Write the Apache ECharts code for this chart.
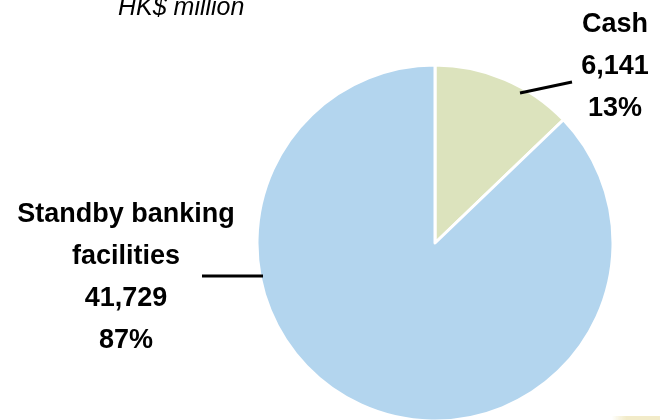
<!DOCTYPE html>
<html>
<head>
<meta charset="utf-8">
<script src="https://cdn.jsdelivr.net/npm/echarts@6/dist/echarts.min.js"></script>
<style>
  html, body { margin: 0; padding: 0; background: #fff; }
  #chart { width: 660px; height: 420px; }
</style>
</head>
<body>
<div id="chart"></div>
<script>
// Liquidity sources, HK$ million
const categories = ['Cash', 'Standby banking\nfacilities'];
const values = [6141, 41729];
const colors = ['#dce3bd', '#b3d5ee'];
const unitLabel = 'HK$ million';

const chart = echarts.init(document.getElementById('chart'), null, { renderer: 'canvas' });

const total = values.reduce((a, b) => a + b, 0);
const fmt = v => v.toString().replace(/\B(?=(\d{3})+(?!\d))/g, ',');

const pieData = categories.map((name, i) => ({
  name: name,
  value: values[i],
  itemStyle: { color: colors[i] }
}));

// Fixed label anchors and leader lines for each slice
const labelSpots = [
  { x: 615, y: 67, line: [[520, 93], [572, 82]] },
  { x: 126, y: 278, line: [[263, 276], [202, 276]] }
];

// Leader lines sit above the slices so they run slightly into the pie
const leaderLines = labelSpots.map(s => ({
  type: 'polyline',
  z: 100,
  silent: true,
  shape: { points: s.line },
  style: { stroke: '#000', lineWidth: 3, fill: null }
}));

chart.setOption({
  animation: false,
  textStyle: { fontFamily: '"Liberation Sans", Arial, sans-serif' },
  title: {
    text: unitLabel,
    left: 113,
    top: -9,
    textStyle: {
      fontFamily: '"Liberation Sans", Arial, sans-serif',
      fontStyle: 'italic',
      fontWeight: 'normal',
      fontSize: 25,
      color: '#000'
    }
  },
  graphic: [{
    type: 'rect',
    shape: { x: 612, y: 416, width: 48, height: 4 },
    style: {
      fill: new echarts.graphic.LinearGradient(0, 0, 1, 0, [
        { offset: 0, color: 'rgba(240,232,190,0)' },
        { offset: 0.3, color: '#f2ebc9' },
        { offset: 1, color: '#f2ebc9' }
      ])
    },
    silent: true
  }].concat(leaderLines),
  series: [{
    type: 'pie',
    center: [435, 243],
    radius: 178,
    startAngle: 90,
    clockwise: true,
    avoidLabelOverlap: false,
    itemStyle: { borderColor: '#fff', borderWidth: 3 },
    label: {
      show: true,
      position: 'outside',
      color: '#000',
      fontSize: 27,
      fontWeight: 'bold',
      lineHeight: 42,
      align: 'center',
      formatter: p => p.name + '\n' + fmt(p.value) + '\n' + Math.round(p.value / total * 100) + '%'
    },
    labelLine: { show: false },
    labelLayout: function (params) {
      const s = labelSpots[params.dataIndex];
      return {
        x: s.x,
        y: s.y,
        align: 'center',
        verticalAlign: 'middle'
      };
    },
    data: pieData
  }]
});
</script>
</body>
</html>
